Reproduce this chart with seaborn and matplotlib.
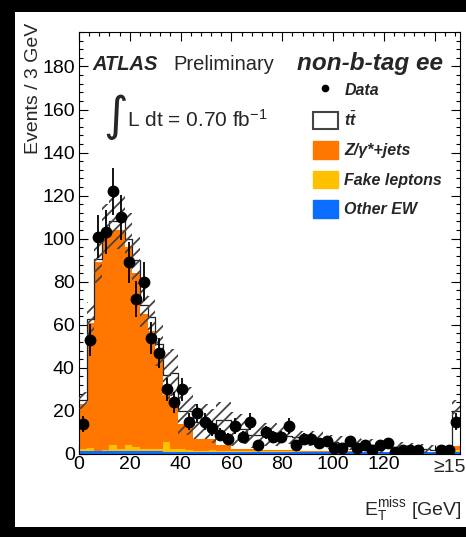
import numpy as np
import pandas as pd
import matplotlib
matplotlib.use("Agg")
import matplotlib.pyplot as plt
import seaborn as sns
from matplotlib.patches import Rectangle, Patch
from matplotlib.lines import Line2D
from matplotlib.font_manager import FontProperties
from matplotlib.ticker import FixedLocator, MultipleLocator

# ---------------- data ----------------
bin_width = 3
x_min, x_max = 0, 150
bin_edges = np.arange(x_min, x_max + 1, bin_width)   # 50 bins, last = overflow
bin_centers = bin_edges[:-1] + bin_width / 2

data_counts = [14, 53, 101, 103, 122, 110, 89, 72, 80, 54,
               47, 30, 24, 30, 15, 19, 15, 12, 9, 7,
               13, 8, 15, 4, 10, 8, 8, 13, 4, 7,
               7, 5, 6, 3, 3, 6, 3, 4, 2, 4,
               5, 1, 2, 2, 2, 0, 0, 2, 2, 15]

other_ew = [1.3, 1.3, 1.3, 1.3, 1.3, 1.3, 1.3, 1.2, 1.2, 1.2,
            1.2, 1.1, 1.1, 1.1, 1.1, 1.0, 1.0, 1.0, 1.0, 1.0,
            1.0, 1.0, 0.9, 0.9, 0.9, 0.9, 0.9, 0.9, 0.9, 0.9,
            0.9, 0.9, 0.9, 0.8, 0.8, 0.8, 0.8, 0.8, 0.8, 0.8,
            0.8, 0.8, 0.8, 0.8, 0.8, 0.7, 0.7, 0.7, 0.7, 1.0]

fake_leptons = [1.0, 1.6, 0.3, 0.4, 2.8, 0.8, 2.7, 2.1, 1.0, 1.0,
                0.9, 4.4, 1.2, 1.0, 0.8, 0.6, 0.5, 0.8, 0.4, 0.5,
                0.4, 0.3, 0.4, 0.3, 0.3, 0.3, 0.3, 0.3, 0.3, 0.2,
                0.2, 0.2, 0.2, 0.2, 0.2, 0.2, 0.2, 0.2, 0.2, 0.2,
                0.2, 0.1, 0.1, 0.1, 0.1, 0.1, 0.1, 0.1, 0.1, 0.8]

z_jets = [20.7, 58.1, 87.4, 100.3, 99.9, 101.9, 92.0, 80.7, 62.8, 54.8,
          45.9, 22.0, 22.0, 12.0, 12.1, 5.4, 5.5, 5.2, 2.8, 2.7,
          1.0, 1.0, 0.9, 0.9, 0.8, 0.8, 0.7, 0.6, 0.5, 0.4,
          0.3, 0.2, 0.2, 0.3, 0.2, 0.2, 0.2, 0.1, 0.1, 0.1,
          0.1, 0.1, 0.1, 0.1, 0.0, 0.1, 0.1, 0.1, 0.1, 1.7]

ttbar = [2.0, 1.5, 1.5, 2.0, 4.0, 4.0, 4.0, 6.0, 4.0, 6.5,
         3.0, 9.0, 13.5, 6.0, 6.0, 8.0, 8.0, 6.0, 11.8, 11.8,
         9.3, 9.3, 6.8, 6.8, 7.0, 7.0, 7.0, 6.7, 6.0, 5.6,
         5.6, 5.7, 4.7, 4.2, 3.8, 3.8, 3.3, 2.9, 2.9, 2.4,
         2.4, 2.0, 2.0, 1.5, 1.6, 1.6, 1.1, 1.1, 1.1, 16.5]

mc_uncertainty = [4, 8, 11, 12, 13, 13, 12, 11, 10, 10,
                  10, 11, 11, 11, 11, 8, 8, 8, 8, 8,
                  8, 7, 6, 5.5, 5.5, 5.5, 5, 4, 4, 3.5,
                  3.5, 3.5, 3.5, 3.5, 3.5, 3, 3, 3, 3, 3,
                  2.5, 2.5, 2.5, 2.5, 2, 2, 2, 2, 2, 5]

x_tick_values = [0, 20, 40, 60, 80, 100, 120, 140]
x_tick_labels = ["0", "20", "40", "60", "80", "100", "120", ""]
overflow_label = "\u2265150"
legend_labels = ["Data", r"$\it{t\bar{t}}$", "Z/\u03b3*+jets", "Fake leptons", "Other EW"]

# ---------------- style ----------------
sns.set_theme(style="ticks")
plt.rcParams["font.family"] = ["Liberation Sans", "DejaVu Sans"]
plt.rcParams["mathtext.fontset"] = "custom"
plt.rcParams["mathtext.rm"] = "Liberation Sans"
plt.rcParams["mathtext.it"] = "Liberation Sans:italic:bold"
plt.rcParams["mathtext.bf"] = "Liberation Sans:bold"
plt.rcParams["hatch.linewidth"] = 1.3

c_orange = "#ff7700"
c_yellow = "#ffc000"
c_blue = "#0a6dff"

W, H = 466, 537
fig = plt.figure(figsize=(W / 100, H / 100), dpi=100, facecolor="black")
fig.patches.append(Rectangle((15 / W, 10 / H), 1 - 15 / W, 515 / H,
                             transform=fig.transFigure, facecolor="white",
                             edgecolor="none", zorder=-10))
ax = fig.add_axes([79 / W, 1 - 454 / H, 381 / W, 422 / H])

ew = np.array(other_ew)
fk = np.array(fake_leptons)
zj = np.array(z_jets)
tt = np.array(ttbar)
stack = pd.DataFrame({
    "met": bin_centers,
    "cum_ew": ew,
    "cum_fk": ew + fk,
    "cum_z": ew + fk + zj,
    "cum_tt": ew + fk + zj + tt,
})

hist_kws = dict(data=stack, x="met", binwidth=bin_width, binrange=(x_min, x_max),
                element="step", ax=ax)
for col_name, col in [("cum_tt", "white"), ("cum_z", c_orange), ("cum_fk", c_yellow), ("cum_ew", c_blue)]:
    sns.histplot(weights=col_name, fill=True, color=col, alpha=1, linewidth=0, **hist_kws)

sns.histplot(weights="cum_tt", fill=False, color="#222222", linewidth=0.9, **hist_kws)

total = stack["cum_tt"].to_numpy()
unc = np.array(mc_uncertainty)
lo = np.clip(total - unc, 0, None)
hi = total + unc
ax.fill_between(bin_edges, np.append(lo, lo[-1]), np.append(hi, hi[-1]), step="post",
                facecolor="none", edgecolor="#454545", hatch="///", linewidth=0, zorder=3)

d = np.array(data_counts, dtype=float)
m = d > 0
ax.errorbar(bin_centers[m], d[m], yerr=np.sqrt(d[m]), fmt="o", color="black",
            markersize=7.5, elinewidth=1.3, capsize=0, zorder=6)

ax.set_xlim(x_min, x_max)
ax.set_ylim(0, 196)
ax.set_xlabel("")
ax.set_ylabel("")
ax.xaxis.set_major_locator(FixedLocator(x_tick_values))
ax.set_xticklabels(x_tick_labels)
ax.xaxis.set_minor_locator(MultipleLocator(4))
ax.yaxis.set_major_locator(MultipleLocator(20))
ax.yaxis.set_minor_locator(MultipleLocator(4))
ax.tick_params(which="both", direction="in", top=True, right=True, width=0.8, color="black")
ax.tick_params(which="major", length=6.5)
ax.tick_params(which="minor", length=3.2)
ax.tick_params(axis="x", which="major", labelsize=14, pad=1.5, labelcolor="black")
ax.tick_params(axis="y", which="major", labelsize=14, pad=3, labelcolor="black")
for s in ax.spines.values():
    s.set_visible(True)
    s.set_linewidth(0.8)
    s.set_color("black")

ax.text(148, -0.012, overflow_label, transform=ax.get_xaxis_transform(), ha="center",
        va="top", fontsize=14, clip_on=False, family=["Liberation Sans", "DejaVu Sans"])

def fx(x):
    return x / W

def fy(y):
    return 1 - y / H

fig.text(fx(92), fy(70), "ATLAS", fontsize=14.5, weight="bold", style="italic", va="baseline")
fig.text(fx(173), fy(70), "Preliminary", fontsize=14.5, va="baseline")
fig.text(fx(297), fy(70), "non-b-tag ee", fontsize=17.5, weight="bold", style="italic", va="baseline")
fig.text(fx(103), fy(130), "\u222b", fontsize=34, family="DejaVu Sans", va="baseline")
fig.text(fx(127), fy(127), r"L dt = 0.70 fb$^{\mathrm{-1}}$", fontsize=15, va="baseline")

fig.text(fx(33), fy(23), "Events / 3 GeV", fontsize=14, rotation=90, ha="center", va="top")
fig.text(fx(462), fy(515), r"E$_{\mathrm{T}}^{\mathrm{miss}}$ [GeV]", fontsize=14, ha="right", va="baseline")

handles = [
    Line2D([], [], marker="o", color="black", linestyle="none", markersize=4.5),
    Patch(facecolor="white", edgecolor="#444444", linewidth=1.5),
    Patch(facecolor=c_orange, edgecolor=c_orange),
    Patch(facecolor=c_yellow, edgecolor=c_yellow),
    Patch(facecolor=c_blue, edgecolor=c_blue),
]
leg = ax.legend(handles, legend_labels, loc="upper left",
                bbox_to_anchor=(fx(313), fy(81)), bbox_transform=fig.transFigure,
                frameon=False, borderpad=0, borderaxespad=0,
                handlelength=1.56, handleheight=1.3, handletextpad=0.4,
                labelspacing=0.76,
                prop=FontProperties(family="Liberation Sans", weight="bold", style="italic", size=11.5))

fig.savefig("out.png", dpi=100, facecolor="black")
